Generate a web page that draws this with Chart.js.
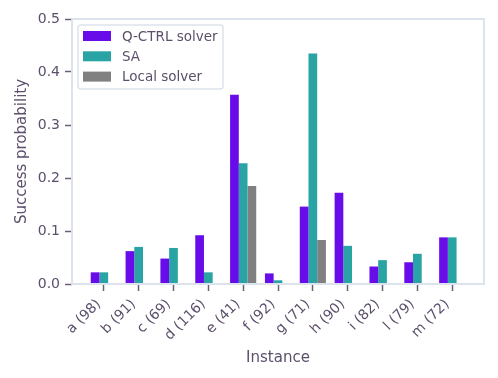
<!DOCTYPE html>
<html>
<head>
<meta charset="utf-8">
<script src="https://cdn.jsdelivr.net/npm/chart.js@4.4.1/dist/chart.umd.min.js"></script>
<style>
  html, body { margin: 0; padding: 0; background: #fff; }
  #wrap { width: 498px; height: 378px; }
</style>
</head>
<body>
<div id="wrap"><canvas id="chart" width="498" height="378"></canvas></div>
<script>
var instances = ['a (98)', 'b (91)', 'c (69)', 'd (116)', 'e (41)', 'f (92)', 'g (71)', 'h (90)', 'i (82)', 'l (79)', 'm (72)'];
var qctrl = [0.022, 0.062, 0.048, 0.092, 0.357, 0.020, 0.146, 0.172, 0.033, 0.041, 0.088];
var sa = [0.022, 0.070, 0.068, 0.022, 0.228, 0.007, 0.435, 0.072, 0.045, 0.057, 0.088];
var local = [null, null, null, null, 0.185, null, 0.083, null, null, null, null];
var yTicks = [0.0, 0.1, 0.2, 0.3, 0.4, 0.5];

var textColor = '#5c4f6b';
var tickColor = '#6b5f77';
var frameColor = '#dde3ec';
var font = 'DejaVu Sans';

function toPoints(values) {
    return values.map(function(v, i) { return { x: i, y: v }; });
}

var frameAndLegend = {
    id: 'frameAndLegend',
    afterDatasetsDraw: function(chart) {
        var ctx = chart.ctx;
        var a = chart.chartArea;
        ctx.save();
        ctx.strokeStyle = frameColor;
        ctx.lineWidth = 2;
        ctx.strokeRect(a.left, a.top, a.right - a.left, a.bottom - a.top);

        // legend box, upper left
        var bx = a.left + 6, by = a.top + 6, bw = 145, bh = 64;
        ctx.fillStyle = 'rgba(255,255,255,0.85)';
        ctx.strokeStyle = frameColor;
        ctx.lineWidth = 1.5;
        ctx.beginPath();
        ctx.roundRect(bx, by, bw, bh, 3);
        ctx.fill();
        ctx.stroke();

        ctx.font = '13.5px "' + font + '"';
        ctx.textBaseline = 'middle';
        chart.data.datasets.forEach(function(ds, i) {
            var cy = by + 11 + i * 20.3;
            ctx.fillStyle = ds.backgroundColor;
            ctx.fillRect(bx + 5, cy - 5, 28, 10);
            ctx.fillStyle = textColor;
            ctx.fillText(ds.label, bx + 44, cy + 1);
        });
        ctx.restore();
    }
};

new Chart(document.getElementById('chart').getContext('2d'), {
    type: 'bar',
    data: {
        datasets: [
            { label: 'Q-CTRL solver', data: toPoints(qctrl), backgroundColor: '#680ce9' },
            { label: 'SA', data: toPoints(sa), backgroundColor: '#2aa3a5' },
            { label: 'Local solver', data: toPoints(local), backgroundColor: '#808080' }
        ]
    },
    options: {
        responsive: false,
        animation: false,
        devicePixelRatio: 1,
        layout: { padding: { top: 19, right: 14, bottom: 11, left: 13 } },
        datasets: { bar: { categoryPercentage: 0.75, barPercentage: 1.0, borderWidth: 0 } },
        plugins: {
            legend: { display: false },
            tooltip: { enabled: false }
        },
        scales: {
            x: {
                type: 'linear',
                min: -0.9125,
                max: 10.9125,
                offset: false,
                afterBuildTicks: function(scale) {
                    scale.ticks = instances.map(function(_, i) { return { value: i }; });
                },
                afterFit: function(scale) { scale.height = 83; },
                grid: { offset: false, drawOnChartArea: false, drawTicks: true, tickLength: 7, tickWidth: 1.5, tickColor: tickColor },
                border: { display: false },
                ticks: {
                    autoSkip: false,
                    includeBounds: false,
                    stepSize: 1,
                    minRotation: 45,
                    maxRotation: 45,
                    padding: 5,
                    labelOffset: -5,
                    color: textColor,
                    font: { family: font, size: 14 },
                    callback: function(v) { return instances[Math.round(v)]; }
                },
                title: {
                    display: true,
                    text: 'Instance',
                    color: textColor,
                    font: { family: font, size: 15 },
                    padding: { top: 4, bottom: 0 }
                }
            },
            y: {
                min: 0,
                max: 0.5,
                afterBuildTicks: function(scale) {
                    scale.ticks = yTicks.map(function(v) { return { value: v }; });
                },
                afterFit: function(scale) { scale.width = 59; },
                grid: { drawOnChartArea: false, drawTicks: true, tickLength: 7, tickWidth: 1.5, tickColor: tickColor },
                border: { display: false },
                ticks: {
                    padding: 5,
                    color: textColor,
                    font: { family: font, size: 14 },
                    callback: function(v) { return Number(v).toFixed(1); }
                },
                title: {
                    display: true,
                    text: 'Success probability',
                    color: textColor,
                    font: { family: font, size: 15 },
                    padding: { top: 0, bottom: 4 }
                }
            }
        }
    },
    plugins: [frameAndLegend]
});
</script>
</body>
</html>
